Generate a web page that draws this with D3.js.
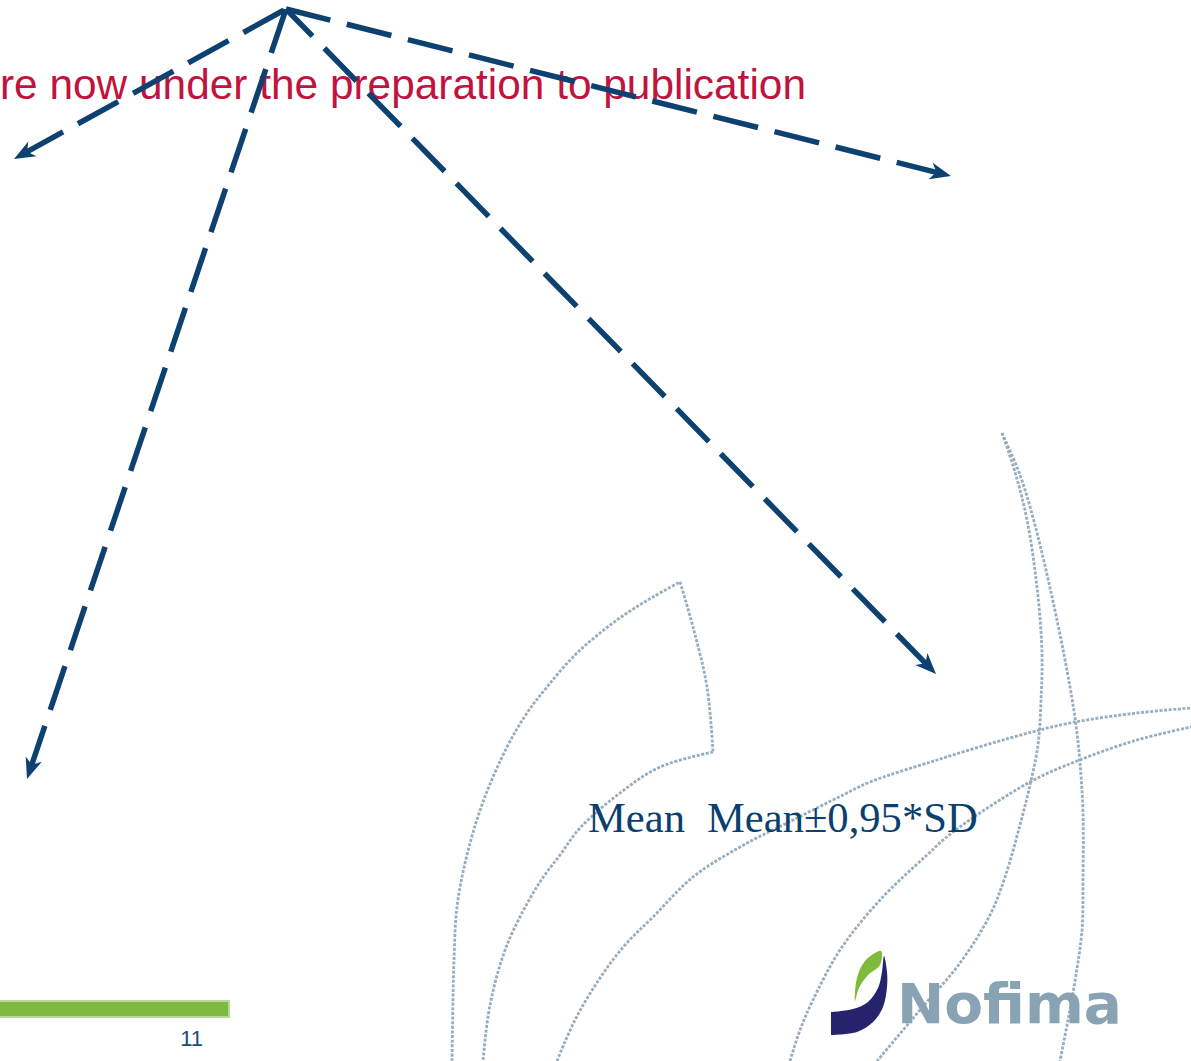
<!DOCTYPE html>
<html>
<head>
<meta charset="utf-8">
<script src="https://cdn.jsdelivr.net/npm/d3@7"></script>
<style>
  html, body { margin: 0; padding: 0; background: #fff; overflow: hidden; }
  svg { display: block; }
</style>
</head>
<body>
<svg id="slide"></svg>
<script>
const width = 1191;
const height = 1061;

// texts on the slide
const headline = 're now under the preparation to publication';
const legendLabels = [ 'Mean', 'Mean±0,95*SD' ];
const legendX = [ 588, 707 ];
const pageNumber = '11';
const logoText = 'Nofima';

// dashed arrows: they all start from one point near the top
const arrowOrigin = [ 286, 9 ];
const arrowTips = [ [ 14, 159 ], [ 27, 779 ], [ 936, 674 ], [ 951, 176 ] ];

// faint background swooshes of the slide template
const leafOuter = [ [ 452, 1061 ], [ 453, 1000 ], [ 454, 960 ], [ 457, 907 ], [ 467, 855 ], [ 483, 802 ],
	[ 507, 747 ], [ 527, 713 ], [ 547, 687 ], [ 573, 657 ], [ 600, 633 ], [ 627, 613 ], [ 653, 597 ], [ 680, 582 ] ];
const leafSide = [ [ 680, 582 ], [ 693, 627 ], [ 707, 687 ], [ 713, 752 ] ];
const leafInner = [ [ 713, 752 ], [ 660, 767 ], [ 620, 793 ], [ 580, 828 ], [ 560, 855 ], [ 538, 885 ],
	[ 507, 945 ], [ 490, 1005 ], [ 483, 1061 ] ];
const sweepUpper = [ [ 557, 1061 ], [ 575, 1020 ], [ 600, 978 ], [ 625, 945 ], [ 653, 917 ], [ 693, 877 ],
	[ 740, 847 ], [ 793, 820 ], [ 843, 795 ], [ 870, 782 ], [ 937, 760 ], [ 1010, 738 ], [ 1070, 723 ],
	[ 1137, 713 ], [ 1191, 708 ] ];
const sweepLower = [ [ 790, 1061 ], [ 800, 1030 ], [ 813, 1000 ], [ 840, 950 ], [ 880, 900 ], [ 927, 855 ],
	[ 953, 832 ], [ 1030, 782 ], [ 1077, 761 ], [ 1137, 740 ], [ 1191, 727 ] ];
const stemLeft = [ [ 1002, 433 ], [ 1015, 472 ], [ 1027, 520 ], [ 1037, 587 ], [ 1042, 653 ], [ 1041, 700 ],
	[ 1038, 745 ], [ 1030, 785 ], [ 1020, 825 ], [ 1005, 877 ], [ 990, 915 ], [ 960, 963 ], [ 920, 1010 ],
	[ 877, 1061 ] ];
const stemRight = [ [ 1002, 433 ], [ 1020, 475 ], [ 1035, 525 ], [ 1057, 620 ], [ 1070, 687 ], [ 1076, 725 ],
	[ 1080, 763 ], [ 1083, 813 ], [ 1083, 880 ], [ 1082, 930 ], [ 1076, 975 ], [ 1068, 1020 ], [ 1060, 1061 ] ];
const swooshes = [ leafOuter, leafSide, leafInner, sweepUpper, sweepLower, stemLeft, stemRight ];

// logo mark (corner points doubled to keep the flat left end square)
const markNavy = [ [ 831, 1012 ], [ 831, 1012 ], [ 853, 1009 ], [ 868, 1002 ], [ 878, 988 ], [ 882, 972 ],
	[ 884, 956 ], [ 887, 972 ], [ 887, 987 ], [ 883, 1007 ], [ 873, 1022 ], [ 857, 1032 ], [ 831, 1035 ],
	[ 831, 1035 ] ];
const markGreen = [ [ 855, 1001 ], [ 857, 978 ], [ 865, 961 ], [ 881, 951 ], [ 880, 965 ], [ 868, 975 ],
	[ 859, 988 ] ];

const svg = d3.select( '#slide' )
	.attr( 'width', width )
	.attr( 'height', height )
	.style( 'background', '#fff' );

const x = d3.scaleLinear().domain( [ 0, width ] ).range( [ 0, width ] );
const y = d3.scaleLinear().domain( [ 0, height ] ).range( [ 0, height ] );

const curve = d3.line()
	.x( ( d ) => x( d[ 0 ] ) )
	.y( ( d ) => y( d[ 1 ] ) )
	.curve( d3.curveCatmullRom.alpha( 0.5 ) );

// background swooshes
svg.append( 'g' )
	.selectAll( 'path' )
	.data( swooshes )
	.join( 'path' )
	.attr( 'd', curve )
	.attr( 'fill', 'none' )
	.attr( 'stroke', '#98adbd' )
	.attr( 'stroke-width', 2.8 )
	.attr( 'stroke-dasharray', '3 1.6' );

// headline
svg.append( 'text' )
	.attr( 'x', x( 0 ) )
	.attr( 'y', y( 99 ) )
	.attr( 'font-family', '"Liberation Sans", Arial, sans-serif' )
	.attr( 'font-size', 42.4 )
	.attr( 'fill', '#c0143f' )
	.text( headline );

// arrows
const arrowColor = '#0c4170';
const pullBack = 10;

svg.append( 'defs' )
	.append( 'marker' )
	.attr( 'id', 'head' )
	.attr( 'markerUnits', 'userSpaceOnUse' )
	.attr( 'viewBox', '-24 -12 36 24' )
	.attr( 'refX', -pullBack )
	.attr( 'refY', 0 )
	.attr( 'markerWidth', 36 )
	.attr( 'markerHeight', 24 )
	.attr( 'orient', 'auto-start-reverse' )
	.append( 'path' )
	.attr( 'd', 'M0,0 L-21,-8.5 L-15,0 L-21,8.5 Z' )
	.attr( 'fill', arrowColor );

// pull the line back a little so its butt end hides inside the head
const arrowPath = ( tip ) => {
	const dx = arrowOrigin[ 0 ] - tip[ 0 ];
	const dy = arrowOrigin[ 1 ] - tip[ 1 ];
	const len = Math.hypot( dx, dy );
	const start = [ tip[ 0 ] + ( dx / len ) * pullBack, tip[ 1 ] + ( dy / len ) * pullBack ];
	return `M${ x( start[ 0 ] ) },${ y( start[ 1 ] ) } L${ x( arrowOrigin[ 0 ] ) },${ y( arrowOrigin[ 1 ] ) }`;
};

svg.append( 'g' )
	.selectAll( 'path' )
	.data( arrowTips )
	.join( 'path' )
	.attr( 'd', arrowPath )
	.attr( 'fill', 'none' )
	.attr( 'stroke', arrowColor )
	.attr( 'stroke-width', 5.5 )
	.attr( 'stroke-dasharray', '46 17' )
	.attr( 'marker-start', 'url(#head)' );

// legend labels
svg.append( 'g' )
	.selectAll( 'text' )
	.data( legendLabels )
	.join( 'text' )
	.attr( 'x', ( d, i ) => x( legendX[ i ] ) )
	.attr( 'y', y( 832 ) )
	.attr( 'font-family', '"Liberation Serif", "Times New Roman", serif' )
	.attr( 'font-size', 42.6 )
	.attr( 'fill', '#0b3f6e' )
	.text( ( d ) => d );

// footer bar and page number
svg.append( 'rect' )
	.attr( 'x', x( -2 ) )
	.attr( 'y', y( 1001 ) )
	.attr( 'width', x( 229 ) - x( -2 ) )
	.attr( 'height', y( 1017 ) - y( 1001 ) )
	.attr( 'fill', '#7cb842' )
	.attr( 'stroke', '#b8db93' )
	.attr( 'stroke-width', 2 );

svg.append( 'text' )
	.attr( 'x', x( 203 ) )
	.attr( 'y', y( 1046 ) )
	.attr( 'text-anchor', 'end' )
	.attr( 'font-family', '"Liberation Sans", Arial, sans-serif' )
	.attr( 'font-size', 22 )
	.attr( 'fill', '#1a4d7a' )
	.text( pageNumber );

// logo
const smooth = d3.line()
	.x( ( d ) => x( d[ 0 ] ) )
	.y( ( d ) => y( d[ 1 ] ) )
	.curve( d3.curveCatmullRomClosed.alpha( 0.5 ) );

svg.append( 'path' )
	.attr( 'd', smooth( markNavy ) )
	.attr( 'fill', '#24236c' );

svg.append( 'path' )
	.attr( 'd', smooth( markGreen ) )
	.attr( 'fill', '#7dbb3b' );

svg.append( 'text' )
	.attr( 'x', x( 897 ) )
	.attr( 'y', y( 1023 ) )
	.attr( 'font-family', '"DejaVu Sans", Verdana, sans-serif' )
	.attr( 'font-weight', 'bold' )
	.attr( 'font-size', 56 )
	.attr( 'textLength', 225 )
	.attr( 'lengthAdjust', 'spacingAndGlyphs' )
	.attr( 'fill', '#87a3b4' )
	.text( logoText );
</script>
</body>
</html>
